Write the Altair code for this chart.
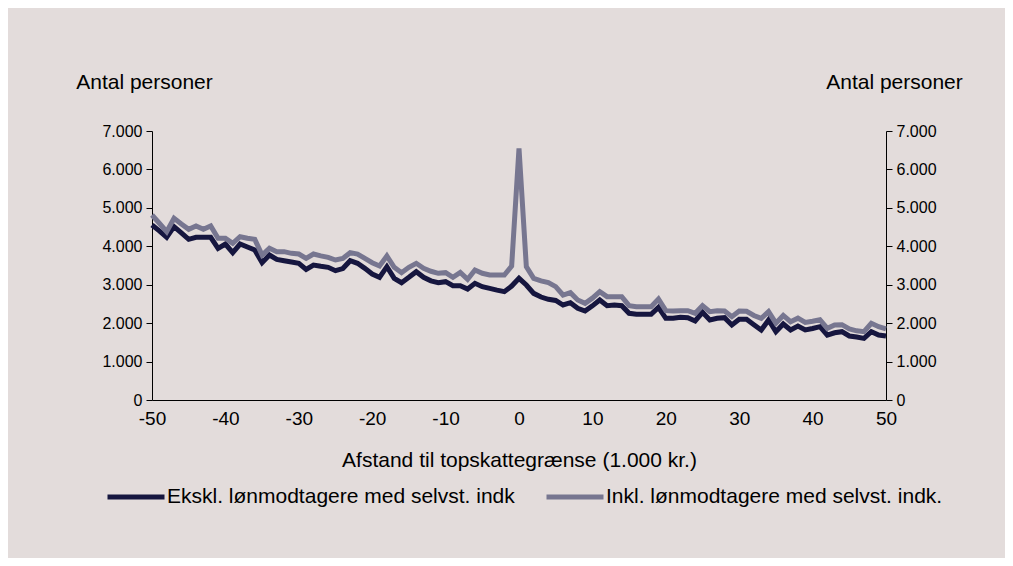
import altair as alt
import pandas as pd

x_values = list(range(-50, 51))

ekskl = [
    4554, 4400, 4233, 4510, 4350, 4181, 4233, 4233, 4233, 3947,
    4059, 3834, 4059, 3980, 3903, 3573, 3773, 3660, 3625, 3590,
    3557, 3400, 3513, 3480, 3452, 3365, 3420, 3625, 3557, 3426,
    3279, 3192, 3469, 3166, 3053, 3192, 3339, 3192, 3100, 3053,
    3079, 2975, 2975, 2888, 3036, 2949, 2906, 2860, 2819, 2966,
    3166,
    2992, 2775, 2680, 2620, 2590, 2472, 2532, 2386, 2316, 2450,
    2602, 2454, 2472, 2454, 2255, 2229, 2229, 2229, 2411, 2125,
    2125, 2151, 2142, 2056, 2281, 2082, 2125, 2142, 1952, 2099,
    2099, 1960, 1822, 2082, 1778, 1978, 1822, 1925, 1822, 1860,
    1908, 1691, 1750, 1778, 1665, 1640, 1604, 1778, 1691, 1665,
]

inkl = [
    4814, 4600, 4380, 4727, 4580, 4441, 4528, 4441, 4528, 4207,
    4207, 4077, 4250, 4210, 4181, 3773, 3947, 3860, 3860, 3816,
    3799, 3686, 3799, 3750, 3712, 3643, 3686, 3834, 3799, 3686,
    3573, 3487, 3747, 3452, 3313, 3452, 3557, 3426, 3350, 3297,
    3313, 3192, 3322, 3140, 3383, 3297, 3253, 3250, 3253, 3487,
    6550,
    3469, 3166, 3100, 3053, 2949, 2732, 2792, 2602, 2515, 2650,
    2819, 2689, 2689, 2689, 2454, 2429, 2429, 2429, 2628, 2325,
    2316, 2325, 2325, 2255, 2454, 2298, 2325, 2316, 2168, 2316,
    2310, 2200, 2125, 2300, 2000, 2200, 2038, 2130, 2020, 2050,
    2090, 1865, 1950, 1960, 1850, 1800, 1778, 1995, 1908, 1850,
]

series_names = [
    "Ekskl. lønmodtagere med selvst. indk",
    "Inkl. lønmodtagere med selvst. indk.",
]
series_colors = ["#16163f", "#777690"]

x_ticks = list(range(-50, 51, 10))
y_ticks = list(range(0, 7001, 1000))

rows = []
for name, vals in zip(series_names, [ekskl, inkl]):
    for xv, v in zip(x_values, vals):
        rows.append({"x": xv, "value": v, "series": name})
df = pd.DataFrame(rows)

FONT = "Liberation Sans"
FS_XTICK = 19
FS_YTICK = 16
FS_TITLE = 21
BG = "#e3dcdb"

x_scale = alt.Scale(domain=[-50, 50], nice=False, zero=False)
x_axis = alt.Axis(
    values=x_ticks,
    labelExpr="datum.value + ''",
    labelFlush=False,
    labelOverlap=False,
    title="Afstand til topskattegrænse (1.000 kr.)",
    titleFontWeight="normal",
    titleFontSize=FS_TITLE,
    titleFont=FONT,
    titlePadding=21,
    labelFontSize=FS_XTICK,
    labelFont=FONT,
    labelColor="black",
    titleColor="black",
    domainColor="black",
    ticks=False,
    labelPadding=9,
    grid=False,
)

y_scale = alt.Scale(domain=[0, 7000], nice=False)


def y_axis(orient, tx):
    return alt.Axis(
        orient=orient,
        values=y_ticks,
        labelExpr="replace(format(datum.value, ','), ',', '.')",
        labelFlush=False,
        title="Antal personer",
        titleAngle=0,
        titleX=tx,
        titleY=-49,
        titleAlign="center",
        titleBaseline="middle",
        titleFontWeight="normal",
        titleFontSize=FS_TITLE,
        titleFont=FONT,
        titleColor="black",
        labelFontSize=FS_YTICK,
        labelFont=FONT,
        labelColor="black",
        domainColor="black",
        tickColor="black",
        tickSize=6,
        labelPadding=4,
        grid=False,
    )


lines = alt.Chart(df).mark_line(strokeWidth=5, strokeJoin="miter").encode(
    x=alt.X("x:Q", scale=x_scale, axis=x_axis),
    y=alt.Y("value:Q", scale=y_scale, axis=y_axis("left", -8)),
    color=alt.Color(
        "series:N",
        scale=alt.Scale(domain=series_names, range=series_colors),
        legend=alt.Legend(
            orient="none",
            legendX=-47,
            legendY=335,
            direction="horizontal",
            title=None,
            symbolType="stroke",
            symbolSize=3249,
            symbolStrokeWidth=5,
            labelFontSize=FS_TITLE,
            labelFont=FONT,
            labelColor="black",
            labelOffset=0,
            labelLimit=600,
            columnPadding=21,
        ),
    ),
)

right = alt.Chart(df).mark_line(opacity=0).encode(
    x=alt.X("x:Q", scale=x_scale, axis=x_axis),
    y=alt.Y("value:Q", scale=y_scale, axis=y_axis("right", 8)),
    detail="series:N",
)

chart = (
    alt.layer(lines, right)
    .resolve_scale(y="independent")
    .properties(
        width=734,
        height=269,
        background=BG,
        padding={"left": 144, "top": 123, "right": 119, "bottom": 158},
        autosize=alt.AutoSizeParams(type="none"),
    )
    .configure_view(stroke=None)
)

chart.save("out.html", embed_options={"renderer": "svg", "actions": False})
